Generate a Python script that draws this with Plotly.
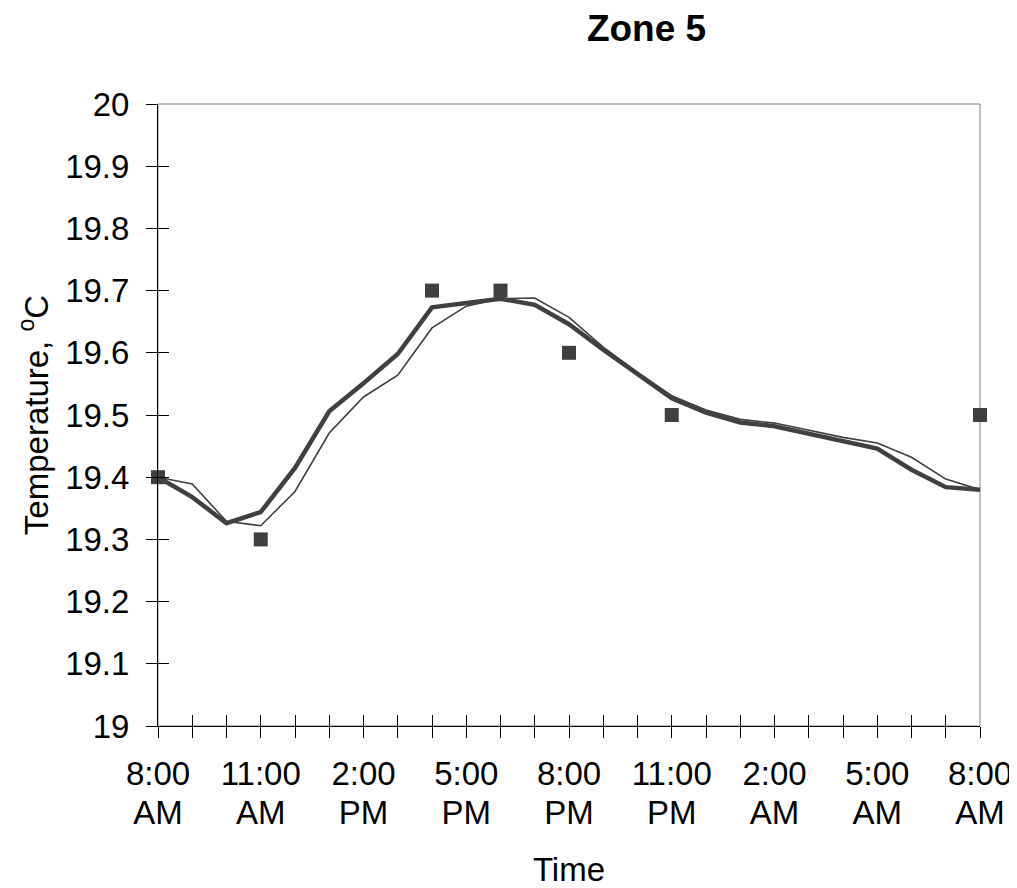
import plotly.graph_objects as go

hours = list(range(25))
tick_line1 = ["8:00", "", "", "11:00", "", "", "2:00", "", "", "5:00", "", "", "8:00", "", "",
              "11:00", "", "", "2:00", "", "", "5:00", "", "", "8:00"]
tick_line2 = ["AM", "", "", "AM", "", "", "PM", "", "", "PM", "", "", "PM", "", "",
              "PM", "", "", "AM", "", "", "AM", "", "", "AM"]

sim_thick = [19.400, 19.368, 19.326, 19.344, 19.415, 19.506, 19.551, 19.598, 19.673, 19.680,
             19.687, 19.677, 19.646, 19.605, 19.565, 19.527, 19.504, 19.488, 19.482, 19.470,
             19.457, 19.446, 19.412, 19.384, 19.380]
sim_thin = [19.400, 19.389, 19.329, 19.322, 19.377, 19.471, 19.529, 19.564, 19.640, 19.675,
            19.687, 19.688, 19.657, 19.609, 19.568, 19.531, 19.508, 19.493, 19.487, 19.475,
            19.464, 19.455, 19.432, 19.397, 19.380]
meas_hours = [0, 3, 8, 10, 12, 15, 24]
meas_vals = [19.4, 19.3, 19.7, 19.7, 19.6, 19.5, 19.5]

y_ticks = [19.0, 19.1, 19.2, 19.3, 19.4, 19.5, 19.6, 19.7, 19.8, 19.9, 20.0]
y_text = ["19", "19.1", "19.2", "19.3", "19.4", "19.5", "19.6", "19.7", "19.8", "19.9", "20"]

C = "#404040"
FONT = "Liberation Sans, Arial, sans-serif"
FS = 33

fig = go.Figure()
fig.add_trace(go.Scatter(x=hours, y=sim_thin, mode="lines", line=dict(color=C, width=1.6),
                         xaxis="x2", yaxis="y2", showlegend=False, cliponaxis=False))
fig.add_trace(go.Scatter(x=hours, y=sim_thick, mode="lines", line=dict(color=C, width=4.5),
                         showlegend=False, cliponaxis=False))
fig.add_trace(go.Scatter(x=meas_hours, y=meas_vals, mode="markers",
                         marker=dict(symbol="square", size=14, color=C),
                         showlegend=False, cliponaxis=False))

axis_common = dict(showgrid=False, zeroline=False, tickcolor="black", tickwidth=1, ticklen=11,
                   automargin=False,
                   tickfont=dict(family=FONT, size=FS, color="black"))

fig.update_layout(
    width=1009, height=880,
    margin=dict(l=150, r=37, t=96, b=162, autoexpand=False),
    paper_bgcolor="white", plot_bgcolor="white",
    font=dict(family=FONT, color="black"),
    title=dict(text="<b>Zone 5</b>", x=638.5 / 1009, xref="container", y=1 - 20.5 / 880,
               yref="container", yanchor="middle", xanchor="center",
               font=dict(family=FONT, size=37, color="black")),
    xaxis=dict(range=[0, 24], tickmode="array", tickvals=hours, ticktext=tick_line1,
               ticks="outside", showline=True, linecolor="black", linewidth=1,
               ticklabelstandoff=7, **axis_common),
    xaxis2=dict(range=[0, 24], overlaying="x", anchor="y2", side="bottom",
                tickmode="array", tickvals=hours, ticktext=tick_line2,
                ticks="inside", showline=False, ticklabelstandoff=64,
                title=dict(text="Time", font=dict(family=FONT, size=FS, color="black"), standoff=33),
                **axis_common),
    yaxis=dict(range=[19, 20], tickmode="array", tickvals=y_ticks, ticktext=y_text,
               ticks="outside", showline=True, linecolor="black", linewidth=1,
               ticklabelstandoff=10,
               title=dict(text="Temperature, <sup>o</sup>C", font=dict(family=FONT, size=FS, color="black"),
                          standoff=6),
               **axis_common),
    yaxis2=dict(range=[19, 20], overlaying="y", anchor="x2", side="left",
                tickmode="array", tickvals=y_ticks, ticktext=[""] * len(y_ticks),
                ticks="inside", showline=False, showticklabels=False, **axis_common),
    shapes=[dict(type="rect", xref="paper", yref="paper", x0=0, x1=1, y0=0, y1=1,
                 line=dict(color="#808080", width=1), layer="below")],
)

fig.write_html("out.html")
